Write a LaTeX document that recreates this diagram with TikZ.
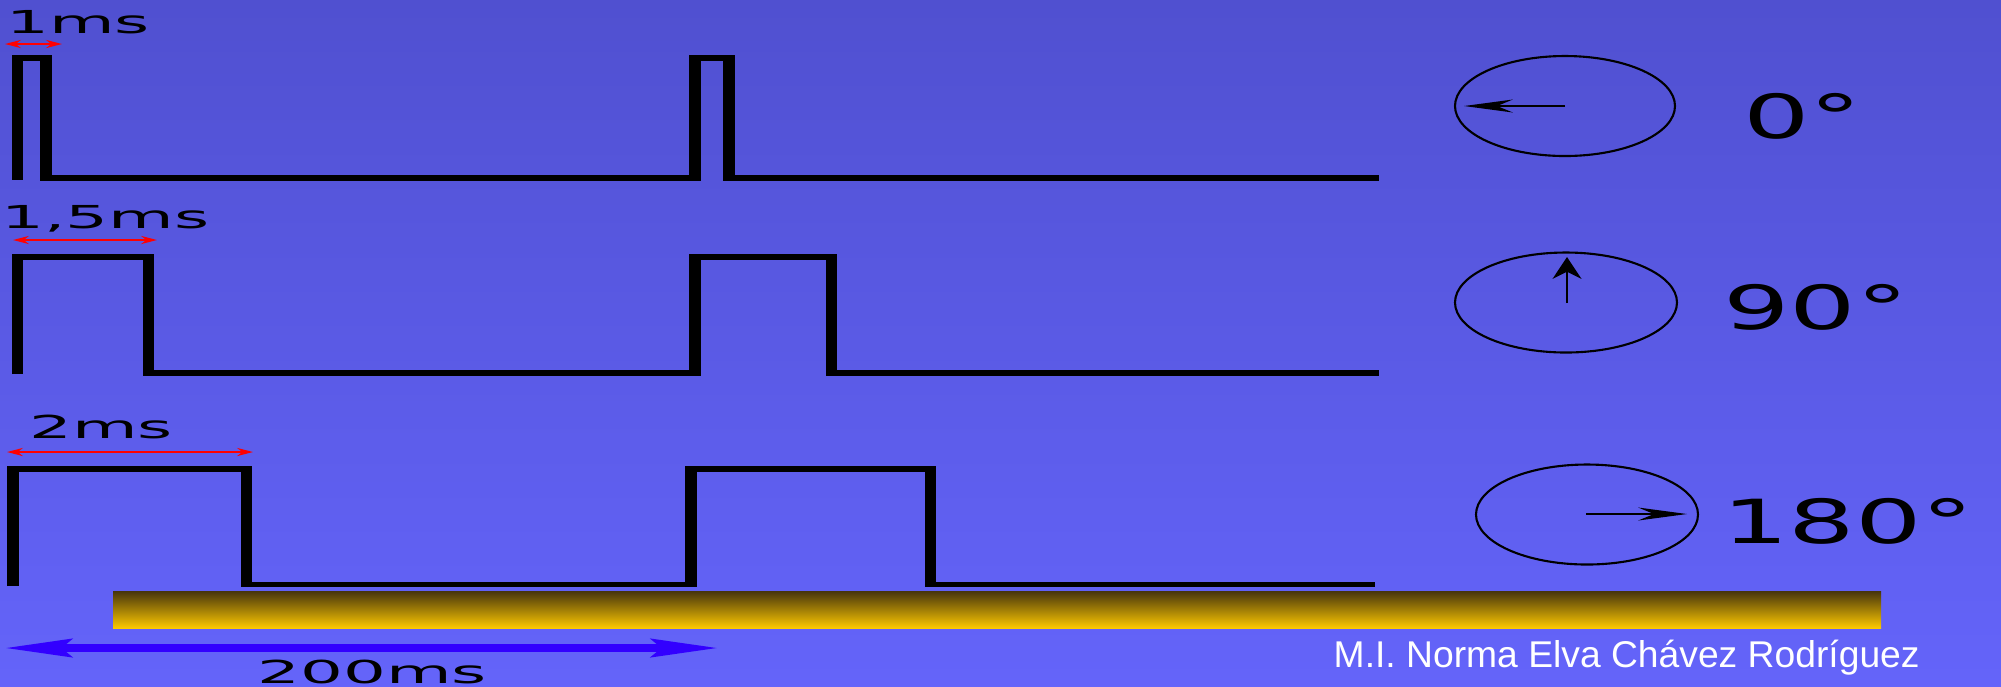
\documentclass[tikz,border=0pt]{standalone}
\usepackage{fontspec}
\setmainfont{DejaVu Sans}
\newfontfamily\authorfont{Liberation Sans}
\usetikzlibrary{arrows.meta}

\definecolor{bgtop}{RGB}{80,80,208}
\definecolor{bgbot}{RGB}{100,100,250}
\definecolor{bardark}{RGB}{70,52,12}
\definecolor{barmid}{RGB}{205,160,4}
\definecolor{baryellow}{RGB}{252,200,0}
\definecolor{spanblue}{RGB}{50,0,255}

\tikzset{
    wave/.style={line width=1.6pt, line join=miter},
    spanarrow/.style={red, line width=0.6pt, {Stealth[length=4.5pt,width=2.3pt]}-{Stealth[length=4.5pt,width=2.3pt]}},
    dial/.style={line width=0.6pt},
    smalllbl/.style={anchor=base west, inner sep=0pt, xscale=2.13, font=\fontsize{9}{9}\selectfont},
    anglelbl/.style={anchor=base west, inner sep=0pt, xscale=1.72, font=\fontsize{17.3}{17.3}\selectfont},
}

\begin{document}
\begin{tikzpicture}[x=1mm, y=-1mm]
    \fill[top color=bgtop, bottom color=bgbot] (0,0) rectangle (200.1,68.6);
    \useasboundingbox (0,0) rectangle (200.1,68.6);

    % pulse trains, stretched like the original
    \begin{scope}[transform canvas={xscale=2}, x=0.5mm]
        \draw[wave] (1.75,17.95) |- (4.6,5.8) |- (69.5,17.8) |- (72.9,5.8) |- (137.9,17.8);
        \draw[wave] (1.75,37.4) |- (14.85,25.7) |- (69.5,37.3) |- (83.15,25.7) |- (137.9,37.3);
        \draw[wave] (1.3,58.6) |- (24.65,46.9) |- (69.1,58.45) |- (93.05,46.9) |- (137.5,58.45);
    \end{scope}

    \draw[spanarrow] (0.5,4.4) -- (6.2,4.4);
    \draw[spanarrow] (1.3,24.0) -- (15.7,24.0);
    \draw[spanarrow] (0.7,45.2) -- (25.3,45.2);

    \shade[top color=bardark, middle color=barmid, bottom color=baryellow] (11.3,59.1) rectangle (188.1,62.8);
    \draw[spanblue, line width=2.3pt, {Stealth[length=19pt,width=5.2pt,inset=3pt]}-{Stealth[length=19pt,width=5.2pt,inset=3pt]}] (0.5,64.8) -- (71.8,64.8);

    % servo dials
    \draw[dial] (156.5,10.6) ellipse [x radius=11.0, y radius=5.0];
    \draw[dial, -{Stealth[length=13.9pt,width=3.7pt]}] (156.5,10.6) -- (146.4,10.6);
    \draw[dial] (156.6,30.25) ellipse [x radius=11.1, y radius=5.0];
    \draw[dial, -{Stealth[length=6.2pt,width=8.2pt]}] (156.7,30.3) -- (156.7,25.7);
    \draw[dial] (158.7,51.45) ellipse [x radius=11.1, y radius=5.0];
    \draw[dial, -{Stealth[length=13.9pt,width=3.7pt]}] (158.6,51.4) -- (168.7,51.4);

    \node[smalllbl] (lbl1) at (0.5,3.3) {1ms};
    \node[smalllbl] (lbl2) at (0.0,22.8) {1,5ms};
    \node[smalllbl] (lbl3) at (2.8,43.8) {2ms};
    \node[smalllbl] (period) at (25.6,68.3) {200ms};
    \node[anglelbl] (deg0) at (174.2,13.8) {0°};
    \node[anglelbl] (deg90) at (172.2,32.9) {90°};
    \node[anglelbl] (deg180) at (172.1,54.3) {180°};
    \node[anchor=base west, inner sep=0pt, white, font=\authorfont\fontsize{10.6}{10.6}\selectfont] (author) at (133.3,66.7) {M.I. Norma Elva Chávez Rodríguez};
\end{tikzpicture}
\end{document}
